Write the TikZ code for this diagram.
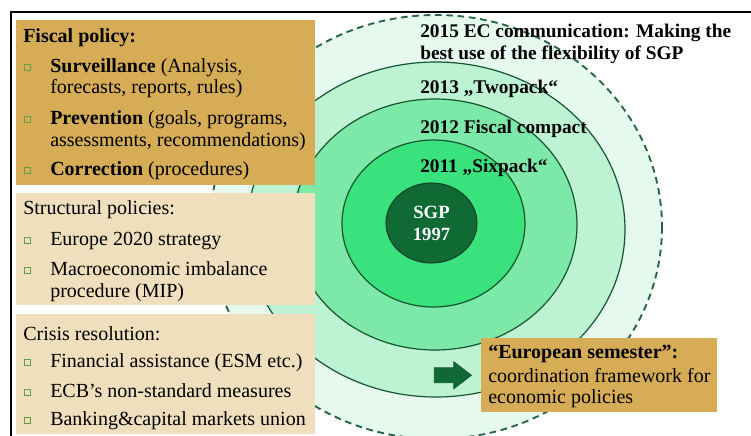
\documentclass[tikz,border=0pt]{standalone}
\usepackage{fontspec}
\setmainfont{Liberation Serif}
\usetikzlibrary{shapes.geometric,shapes.arrows,positioning}
\definecolor{fiscaltan}{RGB}{214,172,86}
\definecolor{lighttan}{RGB}{239,223,188}
\definecolor{mintouter}{RGB}{230,249,238}
\definecolor{ringlight}{RGB}{189,243,211}
\definecolor{ringmid}{RGB}{125,233,168}
\definecolor{ringbright}{RGB}{58,226,126}
\definecolor{sgpgreen}{RGB}{15,106,51}
\definecolor{linegreen}{RGB}{22,84,48}
\definecolor{dashgreen}{RGB}{38,100,68}
\definecolor{bulletgreen}{RGB}{95,160,70}

\tikzset{
    panel/.style={anchor=north west, inner sep=0pt, minimum width=224.25pt},
    boxtext/.style={anchor=base west, inner sep=0pt, font=\fontsize{15}{17}\selectfont},
    ringtext/.style={anchor=base west, inner sep=0pt, font=\fontsize{14.5}{17}\selectfont\bfseries},
    ringline/.style={draw=linegreen, line width=0.9pt},
    bulletsq/.style={draw=bulletgreen, line width=0.6pt},
}

\begin{document}
\begin{tikzpicture}[x=0.75pt, y=-0.75pt]
    \useasboundingbox (0,0) rectangle (751,436);
    % Nested rings
    \draw[draw=dashgreen, line width=1.4pt, dash pattern=on 5pt off 3.5pt, fill=mintouter]
        (436,227) ellipse [x radius=226, y radius=212];
    \draw[ringline, fill=ringlight] (436,229.5) ellipse [x radius=189, y radius=167.5];
    \draw[ringline, fill=ringmid] (435,224.5) ellipse [x radius=142, y radius=125.5];
    \draw[ringline, fill=ringbright] (433.5,223.5) ellipse [x radius=91.5, y radius=83.5];
    \node[ellipse, draw=linegreen!80!black, line width=0.8pt, fill=sgpgreen, text=white,
          minimum width=68.25pt, minimum height=60pt, inner sep=0pt, align=center,
          font=\fontsize{14}{16.5}\selectfont\bfseries] (sgp) at (431.5,223) {SGP\\1997};

    % Ring labels
    \node[ringtext] (r2015a) at (420,37) {2015 EC communication: Making the};
    \node[ringtext] (r2015b) at (420,59) {best use of the flexibility of SGP};
    \node[ringtext] (r2013) at (420,93) {2013 „Twopack“};
    \node[ringtext] (r2012) at (420,133) {2012 Fiscal compact};
    \node[ringtext] (r2011) at (420,172) {2011 „Sixpack“};

    % Frame
    \draw[line width=0.9pt] (11,436) -- (11,12) -- (751,12);

    % Policy panels
    \node[panel, fill=fiscaltan, minimum height=123.75pt] (fiscal) at (16,20) {};
    \node[panel, fill=lighttan, minimum height=84pt] (structural) at (16,193) {};
    \node[panel, fill=lighttan, minimum height=90pt] (crisis) at (16,314) {};

    \node[boxtext, font=\fontsize{15}{17}\selectfont\bfseries] (fis-head) at (23,42) {Fiscal policy:};
    \foreach \y/\txt [count=\i] in {72/{\textbf{Surveillance} (Analysis,},
                                    93/{forecasts, reports, rules)},
                                    124/{\textbf{Prevention} (goals, programs,},
                                    146/{assessments, recommendations)},
                                    175/{\textbf{Correction} (procedures)}} {
        \node[boxtext] (fis-\i) at (50,\y) {\txt};
    }
    \node[boxtext] (str-head) at (23,214) {Structural policies:};
    \foreach \y/\txt [count=\i] in {245/{Europe 2020 strategy},
                                    275/{Macroeconomic imbalance},
                                    297/{procedure (MIP)}} {
        \node[boxtext] (str-\i) at (50,\y) {\txt};
    }
    \node[boxtext] (cri-head) at (23,340) {Crisis resolution:};
    \foreach \y/\txt [count=\i] in {367/{Financial assistance (ESM etc.)},
                                    397/{ECB’s non-standard measures},
                                    425/{Banking\&capital markets union}} {
        \node[boxtext] (cri-\i) at (50,\y) {\txt};
    }
    % Bullets
    \foreach \y in {72,124,175,245,275,367,397,425}
        \draw[bulletsq] (24,{\y-8}) rectangle (30,{\y-2});

    % European semester
    \node[anchor=north west, inner sep=0pt, fill=fiscaltan, minimum width=177pt,
          minimum height=55.5pt] (semester) at (481,338) {};
    \node[boxtext, font=\fontsize{15}{17}\selectfont\bfseries] (sem-head) at (488,358) {“European semester”:};
    \node[boxtext] (sem-1) at (488,382) {coordination framework for};
    \node[boxtext] (sem-2) at (488,403) {economic policies};
    \node[single arrow, fill=sgpgreen, draw=linegreen, line width=0.6pt, inner sep=5.25pt,
          single arrow head extend=4.5pt, single arrow tip angle=75,
          minimum height=27.75pt, left=6.75pt of semester] (semarrow) {};
\end{tikzpicture}
\end{document}
